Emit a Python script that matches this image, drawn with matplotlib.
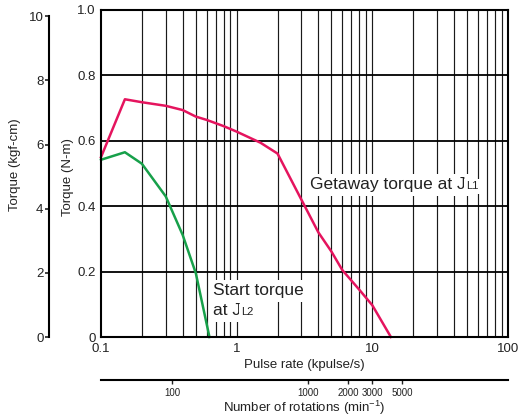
import matplotlib
matplotlib.use("Agg")
import matplotlib.pyplot as plt
from matplotlib.ticker import FixedLocator, NullLocator, NullFormatter

plt.rcParams['font.family'] = ['Liberation Sans', 'DejaVu Sans']
plt.rcParams['mathtext.fontset'] = 'custom'
plt.rcParams['mathtext.rm'] = 'Liberation Sans'
plt.rcParams['mathtext.it'] = 'Liberation Sans'

# ---- data (pulse rate in kpulse/s, torque in N-m) ----
getaway_x = [0.1, 0.15, 0.2, 0.3, 0.4, 0.5, 0.6, 0.8, 1.0, 1.5, 2.0, 3.0, 4.0, 5.0, 6.0, 8.0, 10.0, 13.7]
getaway_y = [0.55, 0.727, 0.718, 0.707, 0.694, 0.674, 0.664, 0.645, 0.628, 0.594, 0.561, 0.42, 0.32, 0.261, 0.205, 0.145, 0.097, 0.0]
start_x = [0.1, 0.15, 0.2, 0.3, 0.4, 0.5, 0.63]
start_y = [0.542, 0.565, 0.530, 0.430, 0.312, 0.195, 0.0]

x_ticks = [0.1, 1, 10, 100]
x_tick_labels = ["0.1", "1", "10", "100"]
y_ticks = [0, 0.2, 0.4, 0.6, 0.8, 1.0]
y_tick_labels = ["0", "0.2", "0.4", "0.6", "0.8", "1.0"]
kgf_ticks = [0, 2, 4, 6, 8, 10]
rpm_ticks = [100, 1000, 2000, 3000, 5000]
rpm_tick_labels = ["100", "1000", "2000", "3000", "5000"]

NM_TO_KGFCM = 10.197
RPM_PER_KPPS = 300.0
TXT = '#222222'

W, H = 522, 416
fig = plt.figure(figsize=(W / 100, H / 100), dpi=100)

def fr(x0, y0, x1, y1):
    return [x0 / W, 1 - y1 / H, (x1 - x0) / W, (y1 - y0) / H]

ax = fig.add_axes(fr(101, 10, 508, 337))
ax.set_xscale('log')
ax.set_xlim(0.1, 100)
ax.set_ylim(0, 1.0)

# grid
for dec in [0.1, 1, 10]:
    for m in range(1, 10):
        v = dec * m
        if 0.1 < v < 100:
            ax.axvline(v, color='#1a1a1a', lw=0.85, zorder=1)
for v in [0.2, 0.4, 0.6, 0.8]:
    ax.axhline(v, color='black', lw=1.3, zorder=1)

ax.plot(getaway_x, getaway_y, color='#E5145E', lw=1.8, zorder=3, clip_on=False)
ax.plot(start_x, start_y, color='#17A04A', lw=1.8, zorder=3, clip_on=False)

ax.xaxis.set_major_locator(FixedLocator(x_ticks))
ax.set_xticklabels(x_tick_labels)
ax.xaxis.set_minor_locator(NullLocator())
ax.xaxis.set_minor_formatter(NullFormatter())
ax.set_yticks(y_ticks)
ax.set_yticklabels(y_tick_labels)
ax.tick_params(axis='both', length=0, labelsize=9.5, colors=TXT)
ax.tick_params(axis='x', pad=4)
ax.tick_params(axis='y', pad=4)
for s in ax.spines.values():
    s.set_linewidth(1.5)
    s.set_color('black')
    s.set_zorder(4)

ax.set_xlabel("Pulse rate (kpulse/s)", fontsize=9.5, color=TXT, labelpad=3)
fig.text(68 / W, 1 - 177 / H, "Torque (N-m)", rotation=90, ha='center', va='center',
         fontsize=9.5, color=TXT)

# annotations with small "Lx" subscripts on the baseline
bb = dict(boxstyle='square,pad=0.2', fc='white', ec='none')
fig.canvas.draw()
renderer = fig.canvas.get_renderer()

def label_with_sub(x, y, main, sub):
    t = ax.text(x, y, main, fontsize=12.5, color=TXT, ha='left', va='baseline',
                bbox=bb, zorder=2)
    ext = t.get_window_extent(renderer=renderer)
    px, py = ax.transData.transform((x, y))
    fx, fy = fig.transFigure.inverted().transform((ext.x1 + 0.5, py))
    fig.text(fx, fy, sub, fontsize=8, color=TXT, ha='left', va='baseline',
             bbox=dict(boxstyle='square,pad=0.25', fc='white', ec='none'), zorder=2)

label_with_sub(3.5, 0.4517, "Getaway torque at J", "L1")
ax.text(0.67, 0.128, "Start torque", fontsize=12.5, color=TXT, ha='left', va='baseline',
        bbox=bb, zorder=2)
label_with_sub(0.67, 0.067, "at J", "L2")

# left kgf-cm axis
axk = fig.add_axes(fr(49, 10, 60, 337))
axk.set_ylim(0, 1.0 * NM_TO_KGFCM)
axk.set_yticks(kgf_ticks)
axk.set_yticklabels([str(t) for t in kgf_ticks])
axk.set_xticks([])
for k in ['top', 'right', 'bottom']:
    axk.spines[k].set_visible(False)
axk.spines['left'].set_linewidth(1.5)
axk.spines['left'].set_bounds(0, 10)
axk.patch.set_visible(False)
axk.tick_params(axis='y', direction='out', length=3, width=1.2, pad=1, labelsize=9.5, colors=TXT)
fig.text(15 / W, 1 - 165 / H, "Torque (kgf-cm)", rotation=90, ha='center', va='center',
         fontsize=9.5, color=TXT)

# bottom rotations axis
axr = fig.add_axes(fr(101, 380, 508, 380.001))
axr.set_xscale('log')
axr.set_xlim(0.1 * RPM_PER_KPPS, 100 * RPM_PER_KPPS)
axr.set_yticks([])
for k in ['top', 'left', 'right']:
    axr.spines[k].set_visible(False)
axr.spines['bottom'].set_linewidth(1.5)
axr.patch.set_visible(False)
axr.xaxis.set_major_locator(FixedLocator(rpm_ticks))
axr.set_xticklabels(rpm_tick_labels)
axr.xaxis.set_minor_locator(NullLocator())
axr.xaxis.set_minor_formatter(NullFormatter())
axr.tick_params(axis='x', direction='out', length=3, width=1.0, pad=2.5, labelsize=7, colors=TXT)
for lab in axr.get_xticklabels():
    lab.set_family(['Liberation Sans Narrow', 'Liberation Sans'])
axr.set_xlabel("Number of rotations (min$^{-1}$)", fontsize=9.5, color=TXT, labelpad=0.5)

fig.savefig("out.png", dpi=100)
